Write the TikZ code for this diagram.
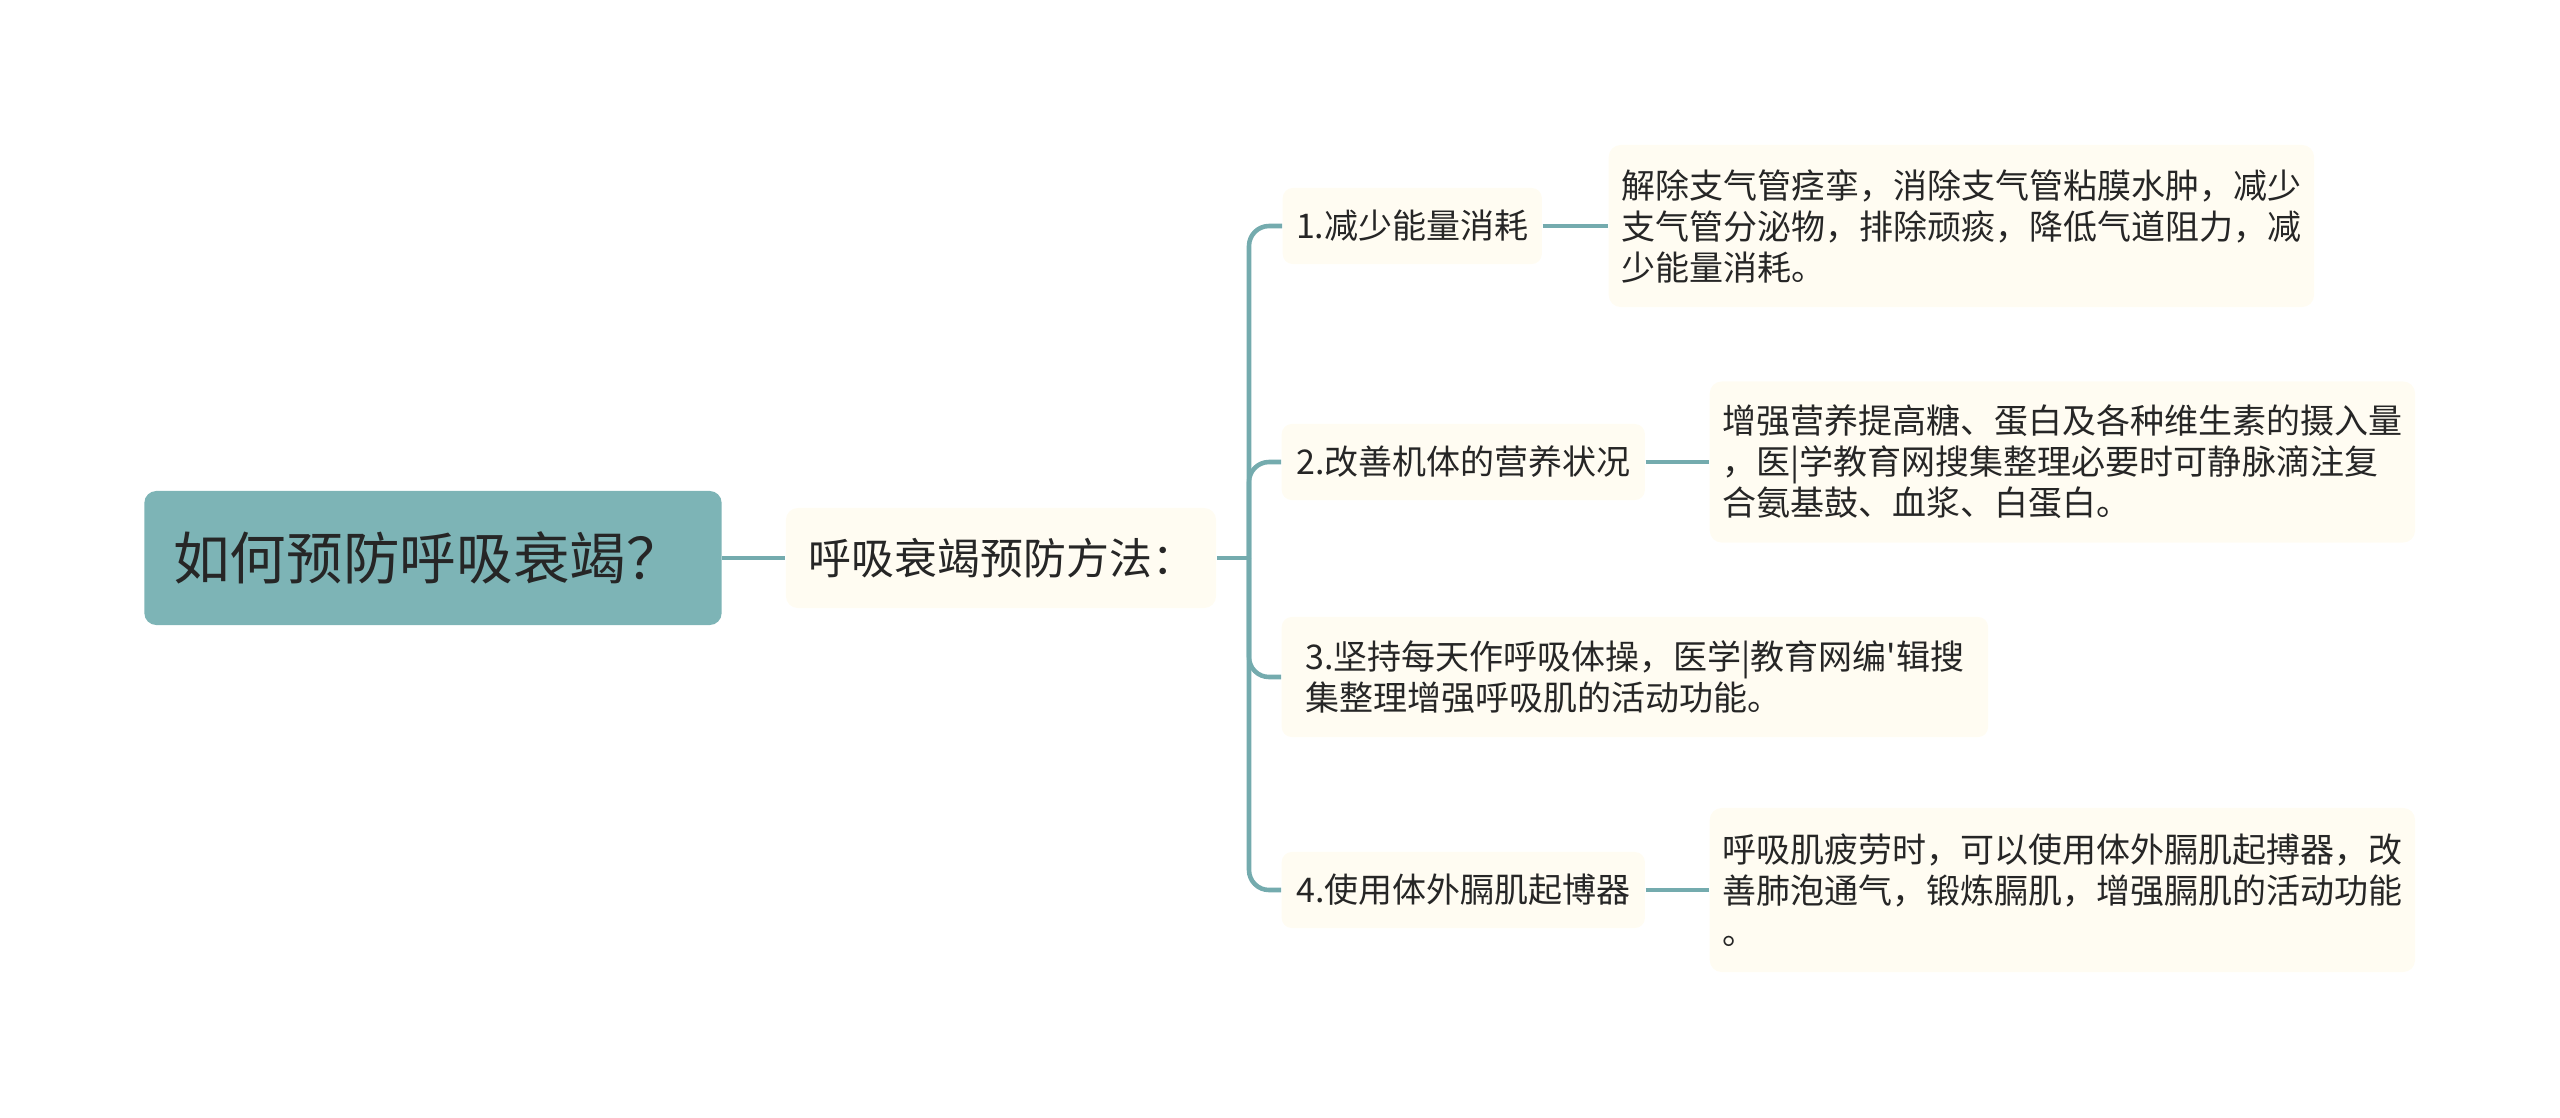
\documentclass[tikz,border=0pt]{standalone}
\usepackage{fontspec}
\setmainfont{Noto Sans CJK SC}[Ligatures=TeXOff]
\definecolor{teal1}{HTML}{7DB4B6}
\definecolor{linkcol}{HTML}{74ABAE}
\definecolor{cream}{HTML}{FFFCF2}
\definecolor{ink}{HTML}{262626}
\begin{document}
\begin{tikzpicture}[x=0.01cm,y=-0.01cm,
        rootbox/.style={draw=none,fill=teal1,rounded corners=0.12cm,text=ink,align=left,
            font=\fontsize{16.1pt}{19pt}\selectfont,text width=5.19cm,inner xsep=0.29cm,minimum height=1.34cm},
        mainbox/.style={fill=cream,rounded corners=0.12cm,text=ink,align=left,
            font=\fontsize{12.2pt}{14pt}\selectfont,text width=3.84cm,inner xsep=0.23cm,minimum height=1cm},
        subbox/.style={fill=cream,rounded corners=0.1cm,text=ink,anchor=west,
            font=\fontsize{9.67pt}{11.66pt}\selectfont,minimum height=0.76cm,inner xsep=0.13cm},
        leafbox/.style={fill=cream,rounded corners=0.12cm,text=ink,anchor=west,align=left,
            font=\fontsize{9.67pt}{11.66pt}\selectfont,text width=6.79cm,inner xsep=0.13cm},
        link/.style={draw=linkcol,line width=1.3pt}]
    \useasboundingbox (0,0) rectangle (2560,1117);

    \node[rootbox] (root) at (433,558) {如何预防呼吸衰竭？};
    \node[mainbox] (way) at (1001,558) {呼吸衰竭预防方法：};

    \node[subbox,minimum width=2.59cm] (b1) at (1282,226) {1.减少能量消耗};
    \node[subbox,minimum width=3.63cm] (b2) at (1281,462) {2.改善机体的营养状况};
    \node[subbox,minimum width=7.06cm,minimum height=1.2cm,align=left] (b3) at (1281,677)
        {3.坚持每天作呼吸体操，医学|教育网编'辑搜\\集整理增强呼吸肌的活动功能。};
    \node[subbox,minimum width=3.63cm] (b4) at (1281,890) {4.使用体外膈肌起博器};

    \node[leafbox,minimum height=1.62cm] (c1) at (1608,226)
        {解除支气管痉挛，消除支气管粘膜水肿，减少\\支气管分泌物，排除顽痰，降低气道阻力，减\\少能量消耗。};
    \node[leafbox,minimum height=1.61cm] (c2) at (1709,462)
        {增强营养提高糖、蛋白及各种维生素的摄入量\\，医|学教育网搜集整理必要时可静脉滴注复\\合氨基鼓、血浆、白蛋白。};
    \node[leafbox,minimum height=1.64cm] (c4) at (1709,890)
        {呼吸肌疲劳时，可以使用体外膈肌起搏器，改\\善肺泡通气，锻炼膈肌，增强膈肌的活动功能\\。};

    \coordinate (fork) at (1249,558);
    \draw[link] (root) -- (way);
    \draw[link] (way.east) -- (fork);
    \foreach \b in {b1,b2,b3,b4}
        \draw[link,rounded corners=0.2cm] (fork) |- (\b.west);
    \draw[link] (b1) -- (c1);
    \draw[link] (b2) -- (c2);
    \draw[link] (b4) -- (c4);
\end{tikzpicture}
\end{document}
